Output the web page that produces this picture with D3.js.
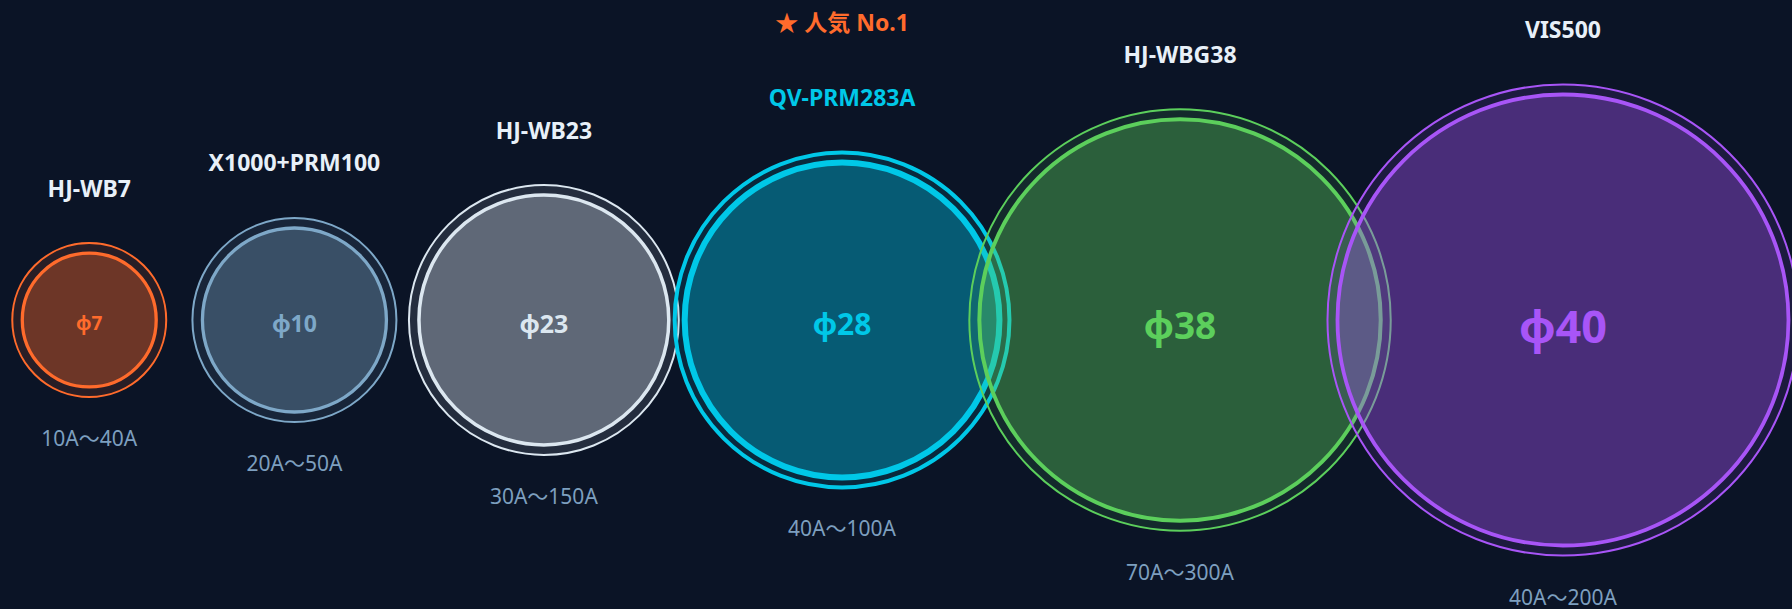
<!DOCTYPE html>
<html>
<head>
<meta charset="utf-8">
<script src="https://cdn.jsdelivr.net/npm/d3@7/dist/d3.min.js"></script>
<style>
  html, body { margin: 0; padding: 0; background: #0b1426; }
  svg { display: block; }
</style>
</head>
<body>
<svg id="chart" width="1792" height="609"></svg>
<script>
// ---------------- data ----------------
const categories  = ["HJ-WB7", "X1000+PRM100", "HJ-WB23", "QV-PRM283A", "HJ-WBG38", "VIS500"];
const diameters   = [7, 10, 23, 28, 38, 40];
const ranges      = ["10A～40A", "20A～50A", "30A～150A", "40A～100A", "70A～300A", "40A～200A"];
const xValues     = [4.98, 16.43, 30.35, 46.99, 65.85, 87.22];  // horizontal position (0-100 axis)
const bubbleSizes = [29.7, 40.8, 55.4, 69.8, 89, 100];          // relative bubble size (0-100)
const badgeText   = "★ 人気 No.1";
const badgeIndex  = 3;

// ---------------- styles ----------------
const W = 1792, H = 609;
const colors      = ["#ff6b2c", "#7ea8c8", "#dce7f0", "#00c8e8", "#5ccf5c", "#a855f7"];
const innerStroke = [3.3, 3.3, 3.5, 6, 4, 3.8];
const outerStroke = [2, 2, 2, 4, 2, 2];
const phiFont     = [19, 23, 25, 30, 37, 45];
const titleColors = ["#e8f0f8", "#e8f0f8", "#e8f0f8", "#00c8e8", "#e8f0f8", "#e8f0f8"];
const rangeColor  = "#7d9fbf";
const ringGap     = 10;
const cy          = 320;
const FONT = "'Noto Sans', 'Noto Sans CJK JP', sans-serif";

const x = d3.scaleLinear().domain([0, 100]).range([0, W]);
const r = d3.scaleLinear().domain([0, 100]).range([0, 225.5]);

const items = categories.map((c, i) => ({
  name: c, d: diameters[i], range: ranges[i], xv: xValues[i], s: bubbleSizes[i], i
}));

const svg = d3.select("#chart");
svg.append("rect").attr("width", W).attr("height", H).attr("fill", "#0b1426");

const g = svg.selectAll("g.bubble").data(items).join("g").attr("class", "bubble");

// outer ring
g.append("circle")
  .attr("cx", d => x(d.xv)).attr("cy", cy)
  .attr("r", d => r(d.s) + ringGap)
  .attr("fill", d => colors[d.i]).attr("fill-opacity", 0.12)
  .attr("stroke", d => colors[d.i]).attr("stroke-width", d => outerStroke[d.i]);

// inner disc
g.append("circle")
  .attr("cx", d => x(d.xv)).attr("cy", cy)
  .attr("r", d => r(d.s))
  .attr("fill", d => colors[d.i]).attr("fill-opacity", 0.32)
  .attr("stroke", d => colors[d.i]).attr("stroke-width", d => innerStroke[d.i]);

// texts
const t = svg.selectAll("g.labels").data(items).join("g").attr("class", "labels")
  .attr("font-family", FONT);

t.append("text")
  .attr("x", d => x(d.xv)).attr("y", d => cy + 0.51 * phiFont[d.i])
  .attr("text-anchor", "middle")
  .attr("font-size", d => phiFont[d.i]).attr("font-weight", 700)
  .attr("fill", d => colors[d.i])
  .text(d => "φ" + d.d);

t.append("text")
  .attr("x", d => x(d.xv)).attr("y", d => cy - (r(d.s) + ringGap) - 46.5)
  .attr("text-anchor", "middle")
  .attr("font-size", 23).attr("font-weight", 700)
  .attr("fill", d => titleColors[d.i])
  .text(d => d.name);

t.append("text")
  .attr("x", d => x(d.xv)).attr("y", d => cy + (r(d.s) + ringGap) + 49)
  .attr("text-anchor", "middle")
  .attr("font-size", 21).attr("font-weight", 400)
  .attr("fill", rangeColor)
  .text(d => d.range);

// badge
svg.append("text")
  .attr("x", x(xValues[badgeIndex])).attr("y", 31)
  .attr("text-anchor", "middle")
  .attr("font-family", FONT)
  .attr("font-size", 23).attr("font-weight", 700)
  .attr("fill", "#ff6b2c")
  .text(badgeText);
</script>
</body>
</html>
